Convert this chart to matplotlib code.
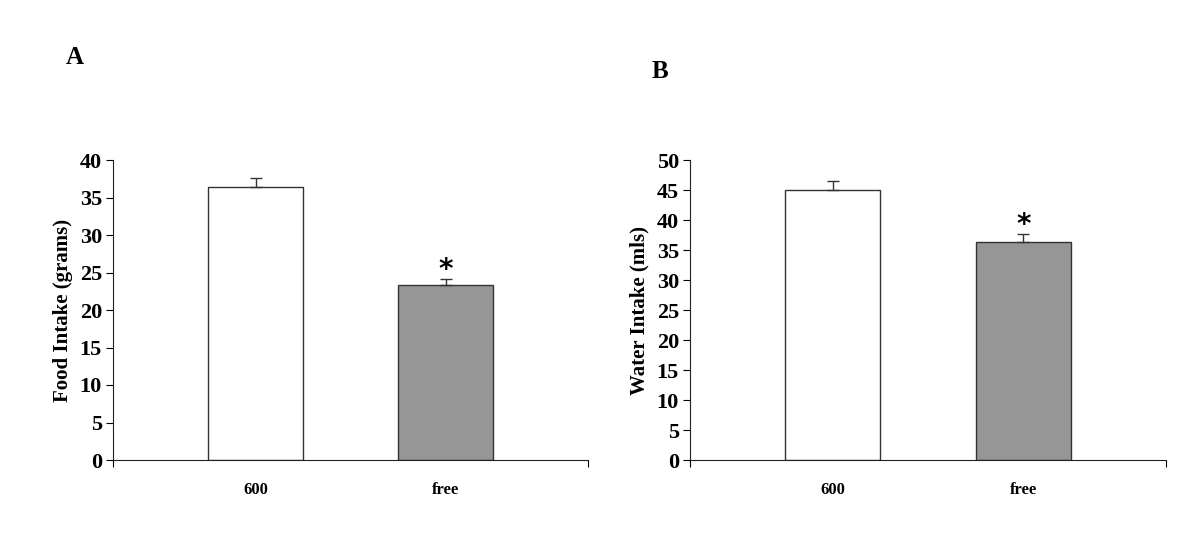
import matplotlib
matplotlib.use("Agg")
import matplotlib.pyplot as plt
import numpy as np

plt.rcParams['font.family'] = ['Liberation Serif', 'DejaVu Serif']
plt.rcParams['font.weight'] = 'bold'

groups = ['600', 'free']
food = [36.4, 23.3]
food_err = [1.2, 0.9]
water = [45.0, 36.3]
water_err = [1.5, 1.3]
bar_colors = ['white', '#969696']

fig = plt.figure(figsize=(12, 5.36), dpi=100)
axA = fig.add_axes([113 / 1200, 1 - 460 / 536, 475 / 1200, 300 / 536])
axB = fig.add_axes([690 / 1200, 1 - 460 / 536, 476 / 1200, 300 / 536])


def panel(ax, vals, errs, ymax, ylabel):
    x = np.arange(len(groups))
    ax.bar(x, vals, width=0.5, color=bar_colors, edgecolor='#333333', linewidth=1.0, zorder=2)
    ax.errorbar(x, vals, yerr=[np.zeros(len(errs)), errs], fmt='none',
                ecolor='#333333', elinewidth=1.0, capsize=4, capthick=1.0, zorder=3)
    ax.set_xlim(-0.75, 1.75)
    ax.set_ylim(0, ymax)
    ax.set_yticks(np.arange(0, ymax + 1, 5))
    ax.tick_params(axis='y', labelsize=16, length=5, width=0.8, direction='out', pad=3)
    ax.set_xticks([-0.75, 1.75])
    ax.set_xticklabels(['', ''])
    ax.set_xticks(x, minor=True)
    ax.set_xticklabels(groups, minor=True)
    ax.tick_params(axis='x', which='major', length=5, width=0.8)
    ax.tick_params(axis='x', which='minor', length=0, labelsize=12, pad=16)
    for s in ['top', 'right']:
        ax.spines[s].set_visible(False)
    for s in ['left', 'bottom']:
        ax.spines[s].set_color('#222222')
        ax.spines[s].set_linewidth(0.8)
    ax.set_ylabel(ylabel, fontsize=15, fontweight='bold', labelpad=5)
    # significance marker over the free group
    ax.text(1, vals[1] + errs[1] + ymax * 0.03, '*', ha='center', va='center',
            fontsize=20, fontweight='bold', family='DejaVu Sans')


panel(axA, food, food_err, 40, 'Food Intake (grams)')
panel(axB, water, water_err, 50, 'Water Intake (mls)')

fig.text(75 / 1200, 1 - 57 / 536, 'A', fontsize=18, fontweight='bold', ha='center', va='center')
fig.text(660 / 1200, 1 - 72 / 536, 'B', fontsize=18, fontweight='bold', ha='center', va='center')

fig.savefig('out.png', dpi=100, facecolor='white')
